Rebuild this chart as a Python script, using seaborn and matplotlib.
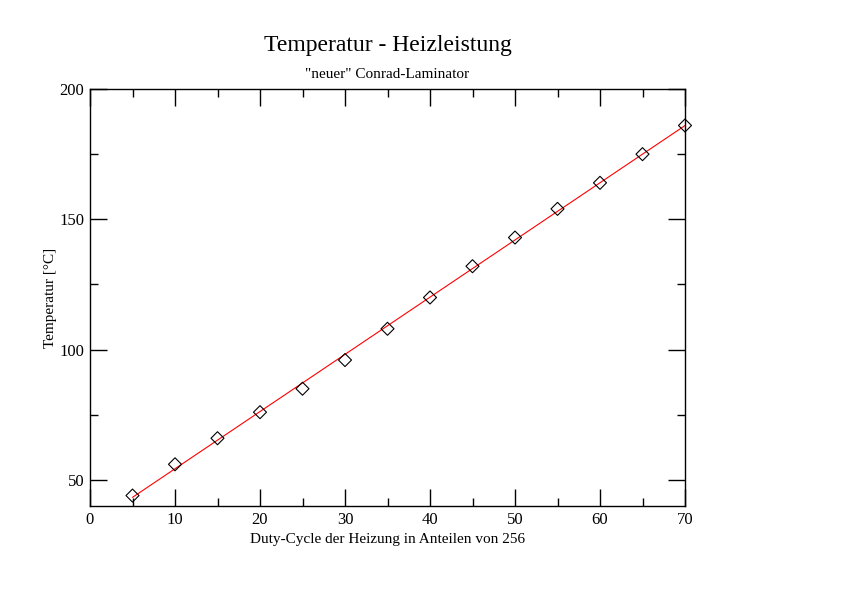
import numpy as np
import pandas as pd
import matplotlib
matplotlib.use("Agg")
import matplotlib.pyplot as plt
import seaborn as sns
from matplotlib.ticker import MultipleLocator

# Messwerte: Duty-Cycle (Anteile von 256) und gemessene Temperatur
duty_cycle = [5, 10, 15, 20, 25, 30, 35, 40, 45, 50, 55, 60, 65, 70]
temperatur = [44, 56, 66, 76, 85, 96, 108, 120, 132, 143, 154, 164, 175, 186]

df = pd.DataFrame({"duty": duty_cycle, "temp": temperatur})

sns.set_theme(style="ticks")
plt.rcParams["font.family"] = ["Liberation Serif", "DejaVu Serif"]
plt.rcParams["text.color"] = "black"
plt.rcParams["axes.labelcolor"] = "black"

fig = plt.figure(figsize=(8.42, 5.95), dpi=100)
ax = fig.add_axes([90 / 842, 1 - 506 / 595, 595 / 842, 417 / 595])

# lineare Regression (rote Linie)
sns.regplot(data=df, x="duty", y="temp", ax=ax, ci=None, scatter=False,
            truncate=True, line_kws={"color": "red", "linewidth": 0.8})

sns.scatterplot(data=df, x="duty", y="temp", ax=ax, marker="D", s=44,
                facecolors="none", edgecolor="black", linewidth=0.8,
                clip_on=False, zorder=3)

ax.set_xlim(0, 70)
ax.set_ylim(40, 200)
ax.xaxis.set_major_locator(MultipleLocator(10))
ax.xaxis.set_minor_locator(MultipleLocator(5))
ax.yaxis.set_major_locator(MultipleLocator(50))
ax.yaxis.set_minor_locator(MultipleLocator(25))

ax.tick_params(which="both", direction="in", top=True, right=True,
               labelsize=12, colors="black", width=1)
ax.tick_params(which="major", length=12, pad=4)
ax.tick_params(which="minor", length=6)
for sp in ax.spines.values():
    sp.set_linewidth(1)
    sp.set_color("black")

ax.set_xlabel("Duty-Cycle der Heizung in Anteilen von 256", fontsize=11, labelpad=4)
ax.set_ylabel("Temperatur [°C]", fontsize=11, labelpad=2)

fig.text(387.5 / 842, 1 - 45 / 595, "Temperatur - Heizleistung", fontsize=17,
         ha="center", va="center")
fig.text(387.5 / 842, 1 - 75 / 595, '"neuer" Conrad-Laminator', fontsize=11,
         ha="center", va="center")

fig.savefig("out.png", dpi=100, facecolor="white")
